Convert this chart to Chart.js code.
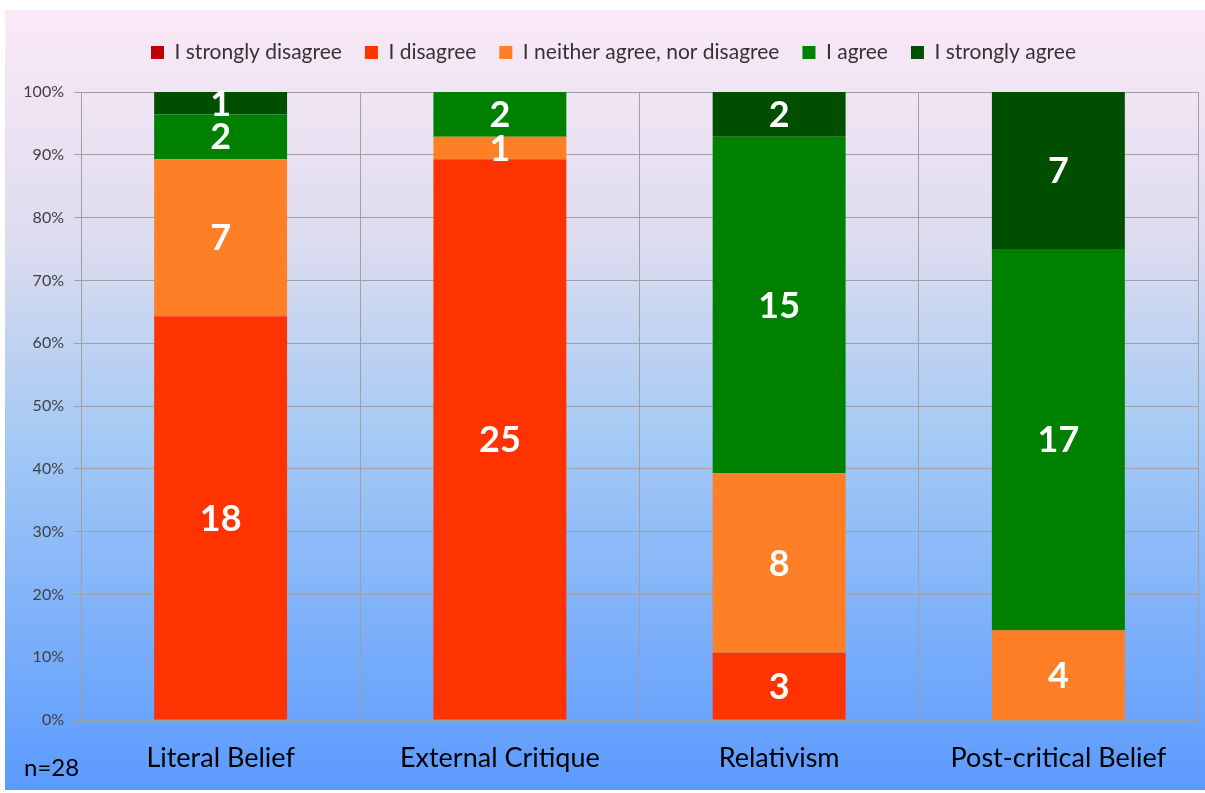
<!DOCTYPE html>
<html><head><meta charset="utf-8">
<script src="https://cdn.jsdelivr.net/npm/chart.js@4"></script>
<style>html,body{margin:0;padding:0;background:#fff}canvas{display:block}</style>
</head><body>
<canvas id="c" width="1205" height="793"></canvas>
<script>
const categories = ["Literal Belief", "External Critique", "Relativism", "Post-critical Belief"];
const seriesNames = ["I strongly disagree", "I disagree", "I neither agree, nor disagree", "I agree", "I strongly agree"];
const stronglyDisagree = [0, 0, 0, 0];
const disagree = [18, 25, 3, 0];
const neither = [7, 1, 8, 4];
const agree = [2, 2, 15, 17];
const stronglyAgree = [1, 0, 2, 7];
const yTicks = [0, 10, 20, 30, 40, 50, 60, 70, 80, 90, 100];
const sampleSize = 28;
const colors = ["#c00000", "#ff3300", "#ff7f27", "#008000", "#004f00"];

const counts = [stronglyDisagree, disagree, neither, agree, stronglyAgree];
const totals = categories.map((_, i) => counts.reduce((s, a) => s + a[i], 0));
const FONT = "Lato, 'Liberation Sans', sans-serif";
const PAD_TOP = 19;
const AREA_TOP = 92;
const LEGEND_SHIFT = 12;

const bgPlugin = {
  id: 'bg',
  beforeLayout(chart) {
    const lg = chart.legend;
    if (lg && !lg._patched) {
      const f = lg.fit.bind(lg);
      lg.fit = function () { f(); this.height = AREA_TOP - PAD_TOP; };
      lg._patched = true;
    }
  },
  afterLayout(chart) {
    const lg = chart.legend;
    if (lg) { lg.left += LEGEND_SHIFT; lg.right += LEGEND_SHIFT; }
  },
  beforeDraw(chart) {
    const ctx = chart.ctx;
    ctx.save();
    ctx.fillStyle = '#ffffff';
    ctx.fillRect(0, 0, chart.width, chart.height);
    const g = ctx.createLinearGradient(0, 10, 0, 790);
    g.addColorStop(0, '#fbe9f7');
    g.addColorStop(0.3, '#dcdcef');
    g.addColorStop(0.55, '#a4c9f4');
    g.addColorStop(1, '#5b9afe');
    ctx.fillStyle = g;
    ctx.fillRect(5, 10, chart.width - 5, 780);
    ctx.restore();
  },
  afterDraw(chart) {
    const ctx = chart.ctx;
    ctx.save();
    ctx.fillStyle = '#000';
    ctx.font = "24px " + FONT;
    ctx.textBaseline = 'middle';
    ctx.textAlign = 'left';
    ctx.fillText('n=' + sampleSize, 24, 768);
    ctx.restore();
  }
};

const labelPlugin = {
  id: 'vlabels',
  afterDatasetsDraw(chart) {
    const ctx = chart.ctx;
    ctx.save();
    ctx.fillStyle = '#ffffff';
    ctx.font = "bold 36px " + FONT;
    ctx.textAlign = 'center';
    ctx.textBaseline = 'middle';
    chart.data.datasets.forEach((ds, di) => {
      const meta = chart.getDatasetMeta(di);
      meta.data.forEach((bar, i) => {
        const v = counts[di][i];
        if (!v) return;
        const y = (bar.y + bar.base) / 2;
        ctx.fillText(String(v), bar.x, y + 1);
      });
    });
    ctx.restore();
  }
};

new Chart(document.getElementById('c'), {
  type: 'bar',
  data: {
    labels: categories,
    datasets: seriesNames.map((name, k) => ({
      label: name,
      data: counts[k].map((v, i) => v / totals[i] * 100),
      backgroundColor: colors[k],
      borderWidth: 0,
      categoryPercentage: 1,
      barPercentage: 0.476
    }))
  },
  options: {
    responsive: false,
    animation: false,
    devicePixelRatio: 1,
    layout: { padding: { left: 5, right: 7, top: PAD_TOP, bottom: 3 } },
    plugins: {
      legend: {
        position: 'top',
        labels: {
          boxWidth: 13, boxHeight: 13, padding: 23,
          color: '#333333',
          font: { family: FONT, size: 21 }
        }
      },
      tooltip: { enabled: false }
    },
    scales: {
      x: {
        stacked: true,
        grid: { color: '#a0a0a0', lineWidth: 1, offset: true, drawTicks: false },
        border: { color: '#a0a0a0' },
        ticks: { color: '#000', font: { family: FONT, size: 27 }, padding: 22 },
        afterFit(s) { s.height = 70; }
      },
      y: {
        stacked: true,
        min: 0, max: 100,
        afterBuildTicks(s) { s.ticks = yTicks.map(v => ({ value: v })); },
        grid: { color: '#a0a0a0', lineWidth: 1, tickLength: 7 },
        border: { color: '#a0a0a0' },
        ticks: { color: '#404040', font: { family: FONT, size: 16 }, padding: 10, callback: v => v + '%' },
        afterFit(s) { s.width = 76; }
      }
    }
  },
  plugins: [bgPlugin, labelPlugin]
});
</script>
</body></html>
